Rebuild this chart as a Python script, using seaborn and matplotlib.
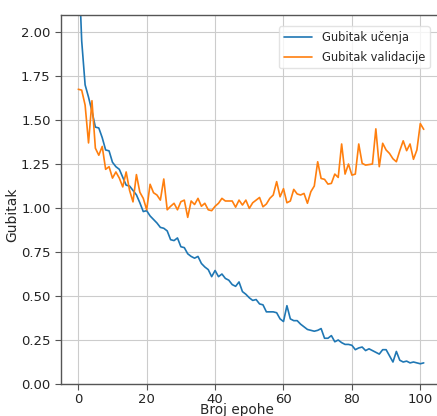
import numpy as np
import pandas as pd
import matplotlib
matplotlib.use("Agg")
import matplotlib.pyplot as plt
import seaborn as sns

train_loss = [2.45, 1.95, 1.70, 1.63, 1.55, 1.46, 1.455, 1.40, 1.33, 1.325,
              1.26, 1.235, 1.22, 1.175, 1.13, 1.125, 1.10, 1.075, 1.03, 0.98,
              0.985, 0.955, 0.935, 0.915, 0.89, 0.885, 0.87, 0.82, 0.815, 0.83,
              0.78, 0.775, 0.74, 0.725, 0.715, 0.725, 0.685, 0.665, 0.65, 0.61,
              0.645, 0.61, 0.625, 0.60, 0.59, 0.565, 0.555, 0.58, 0.525, 0.51,
              0.49, 0.475, 0.48, 0.455, 0.45, 0.41, 0.41, 0.41, 0.405, 0.37,
              0.355, 0.445, 0.37, 0.36, 0.36, 0.34, 0.325, 0.31, 0.305, 0.30,
              0.305, 0.315, 0.26, 0.26, 0.275, 0.24, 0.25, 0.235, 0.225, 0.225,
              0.22, 0.195, 0.205, 0.21, 0.19, 0.20, 0.19, 0.18, 0.17, 0.195,
              0.195, 0.16, 0.125, 0.185, 0.135, 0.125, 0.13, 0.12, 0.125, 0.12,
              0.115, 0.12]

val_loss = [1.675, 1.67, 1.585, 1.37, 1.61, 1.34, 1.30, 1.35, 1.22, 1.235,
            1.17, 1.205, 1.17, 1.12, 1.205, 1.10, 1.035, 1.19, 1.09, 1.055,
            0.99, 1.135, 1.087, 1.074, 1.045, 1.165, 0.99, 1.01, 1.027, 0.99,
            1.036, 1.045, 0.947, 1.04, 1.02, 1.055, 1.01, 1.027, 0.99, 0.985,
            1.01, 1.027, 1.055, 1.04, 1.04, 1.04, 1.005, 1.045, 1.017, 1.045,
            0.998, 1.03, 1.045, 1.06, 1.007, 1.023, 1.055, 1.074, 1.15, 1.064,
            1.11, 1.03, 1.04, 1.106, 1.08, 1.074, 1.083, 1.027, 1.093, 1.125,
            1.263, 1.168, 1.163, 1.136, 1.14, 1.193, 1.174, 1.364, 1.193, 1.25,
            1.187, 1.193, 1.364, 1.254, 1.244, 1.247, 1.25, 1.45, 1.235, 1.368,
            1.33, 1.31, 1.28, 1.263, 1.326, 1.382, 1.326, 1.364, 1.277, 1.33,
            1.48, 1.447]

series_names = ["Gubitak učenja", "Gubitak validacije"]
x_label = "Broj epohe"
y_label = "Gubitak"
y_ticks = [0.0, 0.25, 0.5, 0.75, 1.0, 1.25, 1.5, 1.75, 2.0]

epochs = list(range(len(train_loss)))
df = pd.DataFrame({
    "epoha": epochs * 2,
    "gubitak": train_loss + val_loss,
    "serija": [series_names[0]] * len(train_loss) + [series_names[1]] * len(val_loss),
})

sns.set_style("whitegrid", {
    "axes.edgecolor": "#555555",
    "grid.color": "#cccccc",
    "xtick.bottom": True,
    "ytick.left": True,
})
plt.rcParams["font.family"] = ["DejaVu Sans"]

fig = plt.figure(figsize=(4.37, 4.16), dpi=100)
ax = fig.add_axes([61 / 437, 32 / 416, 380 / 437, 369 / 416])

sns.lineplot(data=df, x="epoha", y="gubitak", hue="serija",
             palette=["#1f77b4", "#ff7f0e"], linewidth=1.2, ax=ax)

ax.set_xlim(-5.05, 106.05)
ax.set_ylim(0, 2.097)
ax.set_yticks(y_ticks)
ax.set_yticklabels([f"{v:.2f}" for v in y_ticks])
ax.set_xticks([0, 20, 40, 60, 80, 100])
ax.tick_params(axis="both", labelsize=9.5, length=4, color="#555555", labelcolor="#222222")
ax.tick_params(axis="x", pad=2.5)

ax.set_xlabel(x_label, fontsize=9.8)
ax.set_ylabel(y_label, fontsize=10)
ax.xaxis.set_label_coords(0.463, -0.052)
ax.yaxis.set_label_coords(-0.11, 0.46)

for s in ax.spines.values():
    s.set_color("#555555")
    s.set_linewidth(1.0)

leg = ax.legend(loc="upper right", fontsize=8.3, frameon=True,
                bbox_to_anchor=(0.985, 0.985), handlelength=2.5,
                labelspacing=0.6)
leg.get_frame().set_edgecolor("#dddddd")

fig.savefig("out.png", dpi=100)
